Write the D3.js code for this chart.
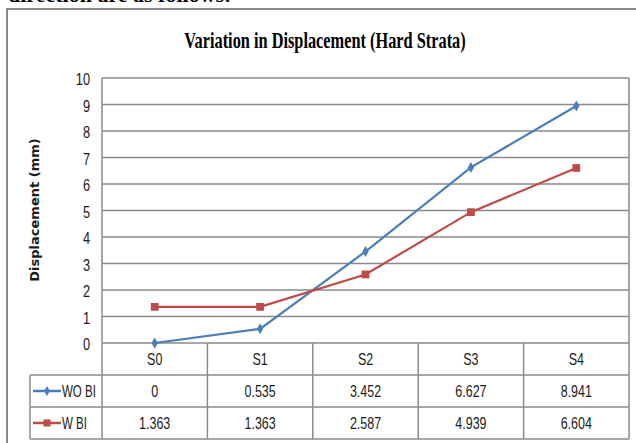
<!DOCTYPE html>
<html>
  <head>
    <meta charset="utf-8">
    <script src="https://unpkg.com/d3@7/dist/d3.min.js"></script>
    <style>
      body {
        margin: 0;
        background: #ffffff;
      }

      .narrow {
        font-family: "Liberation Sans", sans-serif;
        font-size: 16px;
        fill: #1a1a1a;
      }

      .grid {
        stroke: #8a8a8a;
        stroke-width: 1.5px;
      }

      .table-line {
        stroke: #8c8c8c;
        stroke-width: 1.5px;
        fill: none;
      }
    </style>
  </head>
  <body>
    <script>
      const categories = ['S0', 'S1', 'S2', 'S3', 'S4'];
      const woBI = [0, 0.535, 3.452, 6.627, 8.941];
      const wBI = [1.363, 1.363, 2.587, 4.939, 6.604];
      const yTicks = [0, 1, 2, 3, 4, 5, 6, 7, 8, 9, 10];
      const seriesNames = ['WO BI', 'W BI'];
      const seriesColors = ['#4a7ebb', '#be4b48'];

      const width = 636;
      const height = 443;

      const plotLeft = 102;
      const plotRight = 629;
      const plotTop = 78;
      const plotBottom = 343;
      const rowHeight = 32;
      const legendLeft = 30;

      // squeeze text sideways to mimic a condensed face
      const squeeze = (x, y, k = 0.78) => `translate(${x},${y}) scale(${k},1)`;

      const svg = d3.select('body')
        .append('svg')
        .attr('width', width)
        .attr('height', height);

      // cut-off line of body text above the figure
      svg.append('text')
        .attr('x', 8)
        .attr('y', 2)
        .style('font-family', '"Liberation Serif", serif')
        .style('font-weight', 'bold')
        .style('font-size', '22px')
        .text('direction are as follows:');

      // outer chart frame
      svg.append('rect')
        .attr('x', 7)
        .attr('y', 9)
        .attr('width', 640)
        .attr('height', 450)
        .style('fill', '#ffffff')
        .style('stroke', '#8a8a8a')
        .style('stroke-width', 2);

      svg.append('text')
        .attr('transform', squeeze(325, 48, 0.71))
        .attr('text-anchor', 'middle')
        .style('font-family', '"Liberation Serif", serif')
        .style('font-weight', 'bold')
        .style('font-size', '23px')
        .text('Variation in Displacement (Hard Strata)');

      const xScale = d3.scaleBand()
        .domain(categories)
        .range([plotLeft, plotRight]);

      const yScale = d3.scaleLinear()
        .domain([0, 10])
        .range([plotBottom, plotTop]);

      // gridlines
      svg.selectAll('.grid')
        .data(yTicks)
        .enter()
        .append('line')
        .classed('grid', true)
        .attr('x1', plotLeft)
        .attr('x2', plotRight)
        .attr('y1', d => yScale(d))
        .attr('y2', d => yScale(d));

      svg.append('line')
        .classed('grid', true)
        .attr('x1', plotLeft)
        .attr('x2', plotLeft)
        .attr('y1', plotTop)
        .attr('y2', plotBottom);

      svg.append('line')
        .classed('grid', true)
        .attr('x1', plotRight)
        .attr('x2', plotRight)
        .attr('y1', plotTop)
        .attr('y2', plotBottom);

      // y tick labels
      svg.selectAll('.y-label')
        .data(yTicks)
        .enter()
        .append('text')
        .classed('narrow', true)
        .attr('transform', d => squeeze(90, yScale(d) + 7, 0.8))
        .attr('text-anchor', 'end')
        .text(d => d);

      svg.append('text')
        .attr('transform', 'translate(39, 210) rotate(-90)')
        .attr('text-anchor', 'middle')
        .style('font-family', '"DejaVu Sans", sans-serif')
        .style('font-weight', 'bold')
        .style('font-size', '13px')
        .style('fill', '#1a1a1a')
        .text('Displacement (mm)');

      // data table
      const tableBottom = plotBottom + rowHeight * 3;

      svg.append('path')
        .classed('table-line', true)
        .attr('d', `M${legendLeft},${plotBottom + rowHeight}H${plotRight}`
          + `M${legendLeft},${plotBottom + rowHeight * 2}H${plotRight}`
          + `M${legendLeft},${tableBottom}H${plotRight}`
          + `M${legendLeft},${plotBottom + rowHeight}V${tableBottom}`
          + `M${plotRight},${plotBottom}V${tableBottom}`);

      svg.selectAll('.col-line')
        .data(categories)
        .enter()
        .append('line')
        .classed('table-line', true)
        .attr('x1', d => xScale(d))
        .attr('x2', d => xScale(d))
        .attr('y1', plotBottom)
        .attr('y2', tableBottom);

      svg.selectAll('.x-label')
        .data(categories)
        .enter()
        .append('text')
        .classed('narrow', true)
        .attr('transform', d => squeeze(xScale(d) + xScale.bandwidth() / 2, plotBottom + rowHeight / 2 + 6))
        .attr('text-anchor', 'middle')
        .text(d => d);

      [woBI, wBI].forEach((values, i) => {
        const rowY = plotBottom + rowHeight * (i + 1) + rowHeight / 2;
        svg.selectAll(`.cell-${i}`)
          .data(values)
          .enter()
          .append('text')
          .classed('narrow', true)
          .attr('transform', (d, j) => squeeze(xScale(categories[j]) + xScale.bandwidth() / 2, rowY + 6))
          .attr('text-anchor', 'middle')
          .text(d => d);

        const legend = svg.append('g');
        legend.append('line')
          .attr('x1', 33)
          .attr('x2', 61)
          .attr('y1', rowY)
          .attr('y2', rowY)
          .style('stroke', seriesColors[i])
          .style('stroke-width', 2.5);
        legend.append('path')
          .attr('d', i === 0
            ? d3.symbol().type(d3.symbolDiamond).size(30)()
            : d3.symbol().type(d3.symbolSquare).size(50)())
          .attr('transform', `translate(47,${rowY})`)
          .style('fill', seriesColors[i]);
        legend.append('text')
          .classed('narrow', true)
          .attr('transform', squeeze(62, rowY + 6, 0.72))
          .text(seriesNames[i]);
      });

      // series lines and markers
      const line = d3.line()
        .x((d, j) => xScale(categories[j]) + xScale.bandwidth() / 2)
        .y(d => yScale(d));

      [woBI, wBI].forEach((values, i) => {
        svg.append('path')
          .datum(values)
          .attr('d', line)
          .style('fill', 'none')
          .style('stroke', seriesColors[i])
          .style('stroke-width', 2.2);

        svg.selectAll(`.marker-${i}`)
          .data(values)
          .enter()
          .append('path')
          .attr('d', i === 0
            ? d3.symbol().type(d3.symbolDiamond).size(35)()
            : d3.symbol().type(d3.symbolSquare).size(60)())
          .attr('transform', (d, j) => `translate(${xScale(categories[j]) + xScale.bandwidth() / 2},${yScale(d)})`)
          .style('fill', seriesColors[i]);
      });
    </script>
  </body>
</html>
